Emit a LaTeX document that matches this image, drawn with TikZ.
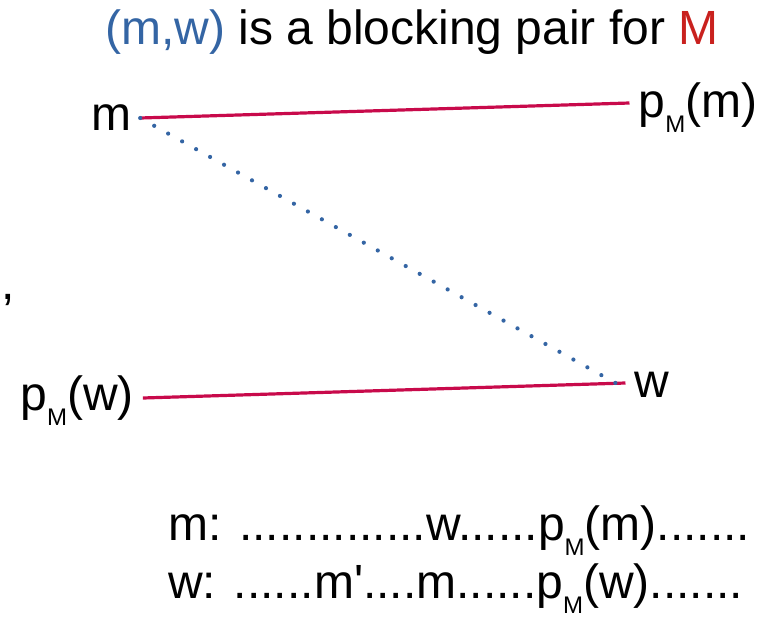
\documentclass[tikz,border=0pt]{standalone}
\usepackage{fontspec}
\setmainfont{Liberation Sans}
\usepackage{xcolor}
\usepackage{tikz}
\usetikzlibrary{arrows.meta, positioning}
\definecolor{mwBlue}{HTML}{3465A4}
\definecolor{mwRed}{HTML}{C9211E}
\definecolor{mwLine}{HTML}{C80A4B}
\newcommand{\subM}{\raisebox{-15pt}{\fontsize{24}{24}\selectfont M}}
\newcommand{\pM}{p\subM}

\begin{document}
\begin{tikzpicture}[
  x=1pt, y=-1pt,
  font=\fontsize{48}{58}\selectfont,
  agent/.style={inner xsep=9pt, inner ysep=0pt, anchor=base},
  txt/.style={inner sep=0pt, anchor=base west},
  matched/.style={draw=mwLine, line width=3.2pt},
  blocking/.style={draw=mwBlue, line width=4.2pt, line cap=round,
                   dash pattern=on 0pt off 16pt},
]
\useasboundingbox (0,0) rectangle (778,621);

\node[agent] (title) at (412,44)
  {\textcolor{mwBlue}{(m,w)} is a blocking pair for \textcolor{mwRed}{M}};

\node[agent] (m) at (111,130) {m};
\node[agent] (pm) at (698,117) {\pM(m)};
\node[agent] (w) at (652,397) {w};
\node[agent] (pw) at (77,410) {\pM(w)};
\node[txt] (comma) at (1,299) {,};

\draw[matched] ([yshift=12pt]m.base east) -- ([yshift=14pt]pm.base west);
\draw[matched] ([yshift=12pt]pw.base east) -- ([yshift=14pt]w.base west);
\draw[blocking] ([yshift=12pt]m.base east) -- ([yshift=14pt,xshift=-10pt]w.base west);

\node[txt] (prefm) at (168,540) {m: ..............w......\pM(m).......};
\node[txt] (prefw) at (168,598) {w: ......m\textquotesingle....m......\pM(w).......};
\end{tikzpicture}
\end{document}
